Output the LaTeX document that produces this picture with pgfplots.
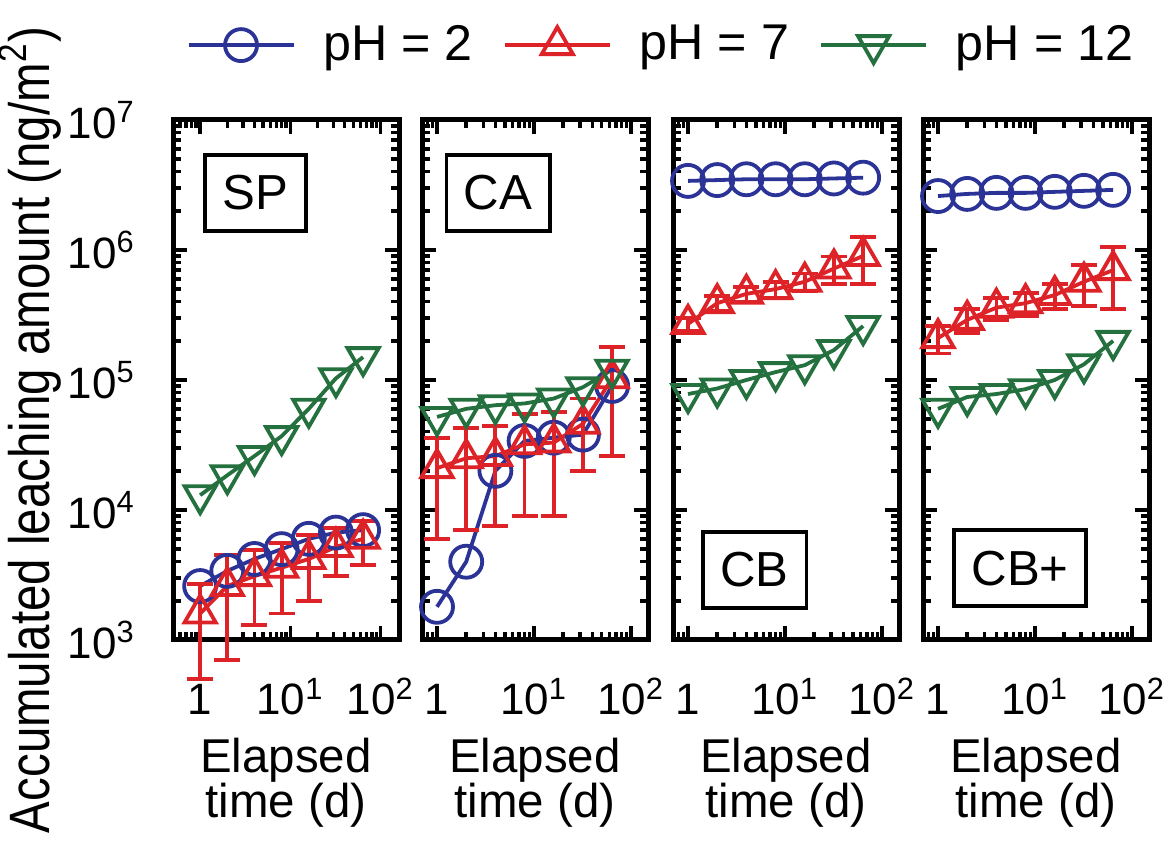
\documentclass[border=0pt]{standalone}
\usepackage{fontspec}
\setmainfont{Liberation Sans}
\usepackage{graphicx}
\usepackage{pgfplots}
\pgfplotsset{compat=1.18}

\definecolor{cblue}{RGB}{43,52,150}
\definecolor{cred}{RGB}{222,35,40}
\definecolor{cgreen}{RGB}{36,112,62}

\tikzset{
  tag/.style={draw, line width=0.35mm, inner xsep=1.75mm, minimum height=7.6mm,
              font=\fontsize{14}{16}\selectfont},
}

% settings shared by the four panels (xmode/ymode go in each axis)
\pgfplotsset{
  scale only axis,
  width=22.6mm, height=52mm,
  xmin=0.7, xmax=150, ymin=1e3, ymax=1e7,
  clip=false,
  axis line style={line width=0.5mm},
  major tick length=1.4mm, minor tick length=0.8mm,
  tick align=inside,
  tick style={black, line width=0.35mm},
  xtick={1,10,100},
  xticklabels={1,10\textsuperscript{1},10\textsuperscript{2}},
  minor xtick={0.8,0.9,2,3,4,5,6,7,8,9,20,30,40,50,60,70,80,90},
  ytick={1e3,1e4,1e5,1e6,1e7},
  minor ytick={2e3,3e3,4e3,5e3,6e3,7e3,8e3,9e3,2e4,3e4,4e4,5e4,6e4,7e4,8e4,9e4,
               2e5,3e5,4e5,5e5,6e5,7e5,8e5,9e5,2e6,3e6,4e6,5e6,6e6,7e6,8e6,9e6},
  yticklabels={},
  tick label style={font=\fontsize{12.5}{14}\selectfont},
  xticklabel style={anchor=base, yshift=-7.5mm},
  yticklabel style={xshift=-2.5mm},
  xlabel={Elapsed\\time (d)},
  xlabel style={at={(axis description cs:0.5,0)}, anchor=north, inner sep=0pt,
                yshift=-9.7mm, align=center, font=\fontsize{13.5}{12.8}\selectfont},
  legend image code/.code={\draw[mark repeat=2, mark phase=2, #1]
      plot coordinates {(0mm,0mm) (5.25mm,0mm) (10.5mm,0mm)};},
}

\begin{document}
\begin{tikzpicture}
\useasboundingbox (0,0) rectangle (117.2mm,84mm);

% SP
\begin{axis}[xmode=log, ymode=log, at={(17.3mm,20mm)}, anchor=south west,
    xmin=0.5, xmax=160,
    minor xtick={0.6,0.7,0.8,0.9,2,3,4,5,6,7,8,9,20,30,40,50,60,70,80,90},
    yticklabels={10\textsuperscript{3},10\textsuperscript{4},10\textsuperscript{5},10\textsuperscript{6},10\textsuperscript{7}},
    legend columns=3,
    legend style={at={(2.155,1.144)}, anchor=center, draw=none, fill=none,
      font=\fontsize{14.3}{16}\selectfont, nodes={inner sep=0pt},
      /tikz/every odd column/.append style={column sep=2.8mm},
      /tikz/every even column/.append style={column sep=3.0mm}},
  ]
\addplot[cblue, line width=0.38mm, mark=o, mark size=1.6mm]
  coordinates {(1,2.6e3) (2,3.4e3) (4,4.2e3) (8,5.0e3) (16,6.0e3) (32,6.7e3) (64,7.0e3)};
\addplot[cred, line width=0.38mm, mark=triangle, mark size=1.8mm,
    error bars/.cd, y dir=both, y explicit,
    error bar style={line width=0.38mm},
    error mark options={rotate=90, mark size=1.3mm, line width=0.38mm}]
  table[x=x, y=y, y error=e] {
x y e
1 1.6e3 1.1e3
2 2.6e3 1.9e3
4 3.1e3 1.8e3
8 3.6e3 2.0e3
16 4.2e3 2.2e3
32 5.2e3 2.1e3
64 6.0e3 2.2e3
};
\addplot[cgreen, line width=0.38mm, mark=triangle, mark size=1.8mm, mark options={rotate=180}]
  coordinates {(1,1.3e4) (2,1.85e4) (4,2.6e4) (8,3.7e4) (16,6.0e4) (32,1.03e5) (64,1.5e5)};
\legend{pH = 2, pH = 7, pH = 12}
\node[tag] at (rel axis cs:0.365,0.86) {SP};
\end{axis}

% CA
\begin{axis}[xmode=log, ymode=log, at={(42.2mm,20mm)}, anchor=south west]
\addplot[cblue, line width=0.38mm, mark=o, mark size=1.6mm]
  coordinates {(1,1.8e3) (2,4.0e3) (4,2.0e4) (8,3.4e4) (16,3.6e4) (32,3.8e4) (64,9.0e4)};
\addplot[cred, line width=0.38mm, mark=triangle, mark size=1.8mm,
    error bars/.cd, y dir=both, y explicit,
    error bar style={line width=0.38mm},
    error mark options={rotate=90, mark size=1.3mm, line width=0.38mm}]
  table[x=x, y=y, y error=e] {
x y e
1 2.1e4 1.5e4
2 2.5e4 1.8e4
4 2.6e4 1.85e4
8 3.2e4 2.3e4
16 3.3e4 2.4e4
32 4.6e4 2.6e4
64 1.03e5 7.7e4
};
\addplot[cgreen, line width=0.38mm, mark=triangle, mark size=1.8mm, mark options={rotate=180}]
  coordinates {(1,5.2e4) (2,6.0e4) (4,6.4e4) (8,6.6e4) (16,7.2e4) (32,8.8e4) (64,1.2e5)};
\node[tag] at (rel axis cs:0.337,0.86) {CA};
\end{axis}

% CB
\begin{axis}[xmode=log, ymode=log, at={(67.3mm,20mm)}, anchor=south west]
\addplot[cblue, line width=0.38mm, mark=o, mark size=1.6mm]
  coordinates {(1,3.4e6) (2,3.45e6) (4,3.5e6) (8,3.5e6) (16,3.5e6) (32,3.55e6) (64,3.6e6)};
\addplot[cred, line width=0.38mm, mark=triangle, mark size=1.8mm,
    error bars/.cd, y dir=both, y explicit,
    error bar style={line width=0.38mm},
    error mark options={rotate=90, mark size=1.3mm, line width=0.38mm}]
  table[x=x, y=y, y error=e] {
x y e
1 2.7e5 3e4
2 3.9e5 5e4
4 4.6e5 6e4
8 5.0e5 7e4
16 5.7e5 9e4
32 7.2e5 1.7e5
64 9.0e5 3.5e5
};
\addplot[cgreen, line width=0.38mm, mark=triangle, mark size=1.8mm, mark options={rotate=180}]
  coordinates {(1,7.8e4) (2,8.6e4) (4,1.0e5) (8,1.15e5) (16,1.3e5) (32,1.7e5) (64,2.6e5)};
\node[tag] at (rel axis cs:0.361,0.135) {CB};
\end{axis}

% CB+
\begin{axis}[xmode=log, ymode=log, at={(92.3mm,20mm)}, anchor=south west]
\addplot[cblue, line width=0.38mm, mark=o, mark size=1.6mm]
  coordinates {(1,2.6e6) (2,2.7e6) (4,2.75e6) (8,2.75e6) (16,2.8e6) (32,2.85e6) (64,2.9e6)};
\addplot[cred, line width=0.38mm, mark=triangle, mark size=1.8mm,
    error bars/.cd, y dir=both, y explicit,
    error bar style={line width=0.38mm},
    error mark options={rotate=90, mark size=1.3mm, line width=0.38mm}]
  table[x=x, y=y, y error=e] {
x y e
1 2.1e5 5e4
2 2.9e5 6e4
4 3.6e5 7e4
8 3.9e5 8e4
16 4.5e5 1e5
32 5.7e5 2e5
64 7.0e5 3.5e5
};
\addplot[cgreen, line width=0.38mm, mark=triangle, mark size=1.8mm, mark options={rotate=180}]
  coordinates {(1,6.0e4) (2,7.4e4) (4,7.8e4) (8,8.5e4) (16,1.0e5) (32,1.32e5) (64,2.0e5)};
\node[tag] at (rel axis cs:0.43,0.138) {CB+};
\end{axis}

\node[rotate=90, anchor=base, font=\fontsize{13.5}{16}\selectfont]
  at (4.9mm,41mm) {\scalebox{1}[1.2]{Accumulated leaching amount (ng/m\textsuperscript{2})}};
\end{tikzpicture}
\end{document}
